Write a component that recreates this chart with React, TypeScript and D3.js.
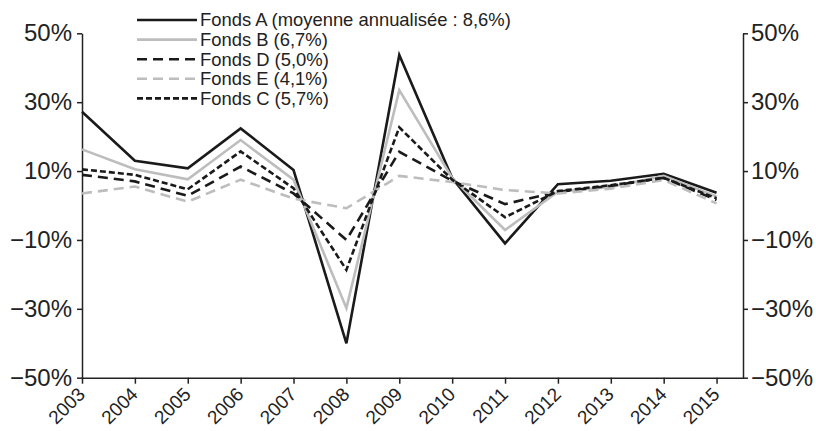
import { useEffect, useRef } from "react";
import * as d3 from "d3";

const years = ["2003", "2004", "2005", "2006", "2007", "2008", "2009", "2010", "2011", "2012", "2013", "2014", "2015"];

const fondsA = [27.2, 13.0, 10.8, 22.4, 10.3, -40.0, 43.7, 8.0, -11.0, 6.2, 7.2, 9.2, 3.7];
const fondsB = [16.3, 10.5, 7.6, 19.0, 7.5, -29.8, 33.5, 8.0, -7.1, 4.0, 5.4, 8.6, 2.6];
const fondsD = [8.9, 7.0, 2.8, 11.3, 3.5, -10.0, 15.6, 7.2, 0.4, 4.0, 5.7, 8.0, 1.6];
const fondsE = [3.5, 5.5, 1.1, 7.5, 2.0, -0.8, 8.6, 6.8, 4.5, 3.5, 4.9, 7.4, 0.6];
const fondsC = [10.5, 8.9, 4.7, 15.7, 5.0, -18.7, 22.7, 7.5, -3.4, 4.2, 5.9, 8.0, 2.1];

const yTicks = [50, 30, 10, -10, -30, -50];

const series = [
  { name: "Fonds A (moyenne annualisée : 8,6%)", values: fondsA, color: "#1a1a1a", dash: null },
  { name: "Fonds B (6,7%)", values: fondsB, color: "#bdbdbd", dash: null },
  { name: "Fonds D (5,0%)", values: fondsD, color: "#1a1a1a", dash: "10,6" },
  { name: "Fonds E (4,1%)", values: fondsE, color: "#bdbdbd", dash: "10,6" },
  { name: "Fonds C (5,7%)", values: fondsC, color: "#1a1a1a", dash: "6,3" },
];

export default function App() {
  const svgRef = useRef<SVGSVGElement>(null);

  useEffect(() => {
    const left = 82;
    const right = 743;

    const svg = d3.select(svgRef.current);
    svg.selectAll("*").remove();

    const x = d3.scaleLinear().domain([0, 12.5]).range([left, right]);
    const y = d3.scaleLinear().domain([-50, 50]).range([377.7, 33.3]);

    const font = "'Liberation Sans', Arial, sans-serif";
    const axisColor = "#222";
    const pct = (d: any) => `${d < 0 ? "\u2212" + Math.abs(+d) : d}%`;

    // Left axis
    const yLeft = svg.append("g")
      .attr("transform", `translate(${left},0)`)
      .call(d3.axisLeft(y).tickValues(yTicks).tickSize(5).tickSizeOuter(0).tickFormat(pct));
    yLeft.select(".domain").attr("stroke", axisColor).attr("stroke-width", 1.5);
    yLeft.selectAll(".tick line").attr("stroke", axisColor).attr("stroke-width", 1.5);
    yLeft.selectAll(".tick text")
      .attr("font-family", font).attr("font-size", 24).attr("fill", "#222").attr("x", -10);

    // Right axis
    const yRight = svg.append("g")
      .attr("transform", `translate(${right},0)`)
      .call(d3.axisRight(y).tickValues(yTicks).tickSize(5).tickSizeOuter(0).tickFormat(pct));
    yRight.select(".domain").attr("stroke", axisColor).attr("stroke-width", 1.5);
    yRight.selectAll(".tick line").attr("stroke", axisColor).attr("stroke-width", 1.5);
    yRight.selectAll(".tick text")
      .attr("font-family", font).attr("font-size", 24).attr("fill", "#222").attr("x", 8);

    // Bottom axis
    const xAxis = svg.append("g")
      .attr("transform", `translate(0,${y(-50)})`)
      .call(d3.axisBottom(x).tickValues(d3.range(years.length)).tickSize(6).tickSizeOuter(0)
        .tickFormat(i => years[+i]));
    xAxis.select(".domain").attr("stroke", axisColor).attr("stroke-width", 1.5);
    xAxis.selectAll(".tick line").attr("stroke", axisColor).attr("stroke-width", 1.5);
    xAxis.selectAll(".tick text")
      .attr("font-family", font).attr("font-size", 19).attr("fill", "#222")
      .attr("text-anchor", "end")
      .attr("x", 0).attr("y", 0).attr("dy", "0.35em")
      .attr("transform", "translate(-1,13) rotate(-45)");

    // Lines
    const line = d3.line<number>()
      .x((_, i) => x(i))
      .y(d => y(d));

    series.forEach(s => {
      svg.append("path")
        .datum(s.values)
        .attr("fill", "none")
        .attr("stroke", s.color)
        .attr("stroke-width", 2.6)
        .attr("stroke-linejoin", "miter")
        .attr("stroke-dasharray", s.dash)
        .attr("d", line);
    });

    // Legend
    const legend = svg.append("g").attr("transform", "translate(137,20)");
    series.forEach((s, i) => {
      const row = legend.append("g").attr("transform", `translate(0,${i * 19.6})`);
      row.append("line")
        .attr("x1", 0).attr("x2", 60).attr("y1", 0).attr("y2", 0)
        .attr("stroke", s.color).attr("stroke-width", 2.6)
        .attr("stroke-dasharray", s.dash);
      row.append("text")
        .attr("x", 63).attr("y", 0).attr("dy", "0.35em")
        .attr("font-family", font).attr("font-size", 18.4).attr("fill", "#222")
        .text(s.name);
    });
  }, []);

  return (
    <div style={{ position: "absolute", left: 0, top: 0 }}>
      <svg ref={svgRef} width={816} height={431} style={{ display: "block", background: "#fff" }}></svg>
    </div>
  );
}
